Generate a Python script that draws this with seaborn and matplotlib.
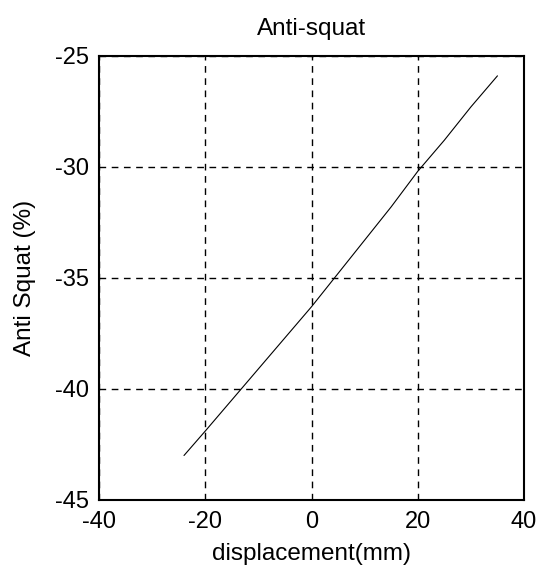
import matplotlib
matplotlib.use("Agg")
import matplotlib.pyplot as plt
import matplotlib.ticker as mticker
import seaborn as sns
import pandas as pd

displacement = [-24, -20, -15, -10, -5, 0, 5, 10, 15, 20, 25, 30, 35]
anti_squat = [-43.0, -41.9, -40.5, -39.1, -37.7, -36.3, -34.8, -33.3, -31.8, -30.2, -28.8, -27.3, -25.9]
x_ticks = [-40, -20, 0, 20, 40]
y_ticks = [-45, -40, -35, -30, -25]

sns.set_theme(style="white")
plt.rcParams['font.family'] = ['Liberation Sans', 'DejaVu Sans']
plt.rcParams['axes.unicode_minus'] = False

df = pd.DataFrame({"displacement": displacement, "anti_squat": anti_squat})

fig = plt.figure(figsize=(5.38, 5.70), dpi=100)
ax = fig.add_axes([0.184, 0.123, 0.790, 0.779])
sns.lineplot(data=df, x="displacement", y="anti_squat", ax=ax, color="black", linewidth=0.8)

ax.set_xlim(-40, 40)
ax.set_ylim(-45, -25)
ax.set_xticks(x_ticks)
ax.set_yticks(y_ticks)
ax.xaxis.set_major_formatter(mticker.FuncFormatter(lambda v, p: f"{v:g}".replace("\u2212", "-")))
ax.yaxis.set_major_formatter(mticker.FuncFormatter(lambda v, p: f"{v:g}".replace("\u2212", "-")))
ax.tick_params(axis="x", direction="in", length=4, width=1, labelsize=17, colors="black", pad=8)
ax.tick_params(axis="y", direction="in", length=4, width=1, labelsize=17, colors="black", pad=7)
ax.grid(True, color="black", linestyle=(0, (4.8, 4.0)), linewidth=1)
for s in ax.spines.values():
    s.set_color("black")
    s.set_linewidth(1.5)
ax.set_xlabel("displacement(mm)", fontsize=17.5, color="black", labelpad=7)
ax.set_ylabel("Anti Squat (%)", fontsize=17.5, color="black", labelpad=14)
ax.set_title("Anti-squat", fontsize=17.5, color="black", pad=15)

fig.savefig("out.png", dpi=100)
